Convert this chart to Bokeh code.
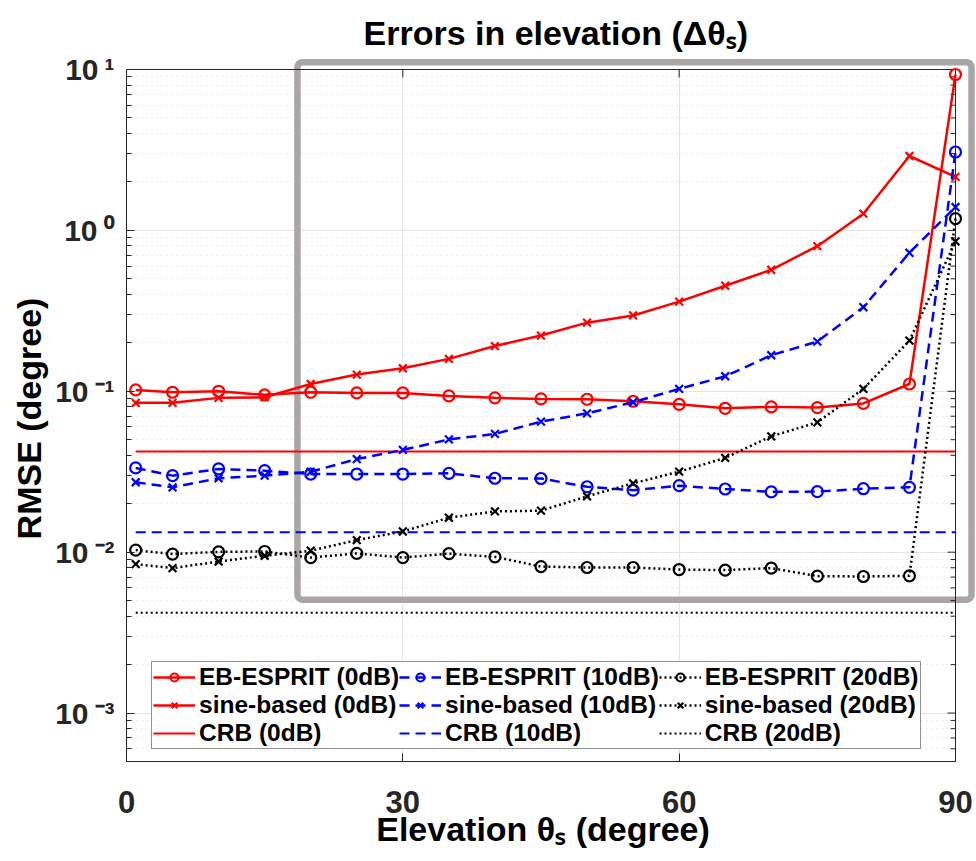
from bokeh.plotting import figure
from bokeh.models import Legend, LegendItem, BoxAnnotation, FixedTicker, Range1d
from bokeh.embed import file_html
from bokeh.resources import INLINE

# ---- data: RMSE of the elevation estimate versus source elevation ----
theta = [1, 5, 10, 15, 20, 25, 30, 35, 40, 45, 50, 55, 60, 65, 70, 75, 80, 85, 90]

eb_0db = [0.102, 0.0986, 0.100, 0.0950, 0.0986, 0.0977, 0.0977, 0.0936, 0.0910, 0.0897,
          0.0892, 0.0867, 0.0830, 0.0784, 0.0800, 0.0792, 0.0841, 0.111, 9.31]
sine_0db = [0.0848, 0.0848, 0.0910, 0.0918, 0.111, 0.127, 0.139, 0.159, 0.191, 0.222,
            0.267, 0.296, 0.361, 0.453, 0.569, 0.798, 1.27, 2.90, 2.15]
crb_0db = [0.0422, 0.0422, 0.0422, 0.0422, 0.0422, 0.0422, 0.0422, 0.0422, 0.0422, 0.0422,
           0.0422, 0.0422, 0.0422, 0.0422, 0.0422, 0.0422, 0.0422, 0.0422, 0.0422]

eb_10db = [0.0334, 0.0299, 0.0329, 0.0321, 0.0306, 0.0306, 0.0306, 0.0309, 0.0288, 0.0287,
           0.0255, 0.0243, 0.0259, 0.0247, 0.0237, 0.0238, 0.0248, 0.0253, 3.07]
sine_10db = [0.0272, 0.0253, 0.0288, 0.0299, 0.0316, 0.0379, 0.0432, 0.0502, 0.0543, 0.0648,
             0.0729, 0.0855, 0.1035, 0.124, 0.1675, 0.2037, 0.333, 0.726, 1.397]
crb_10db = [0.0133, 0.0133, 0.0133, 0.0133, 0.0133, 0.0133, 0.0133, 0.0133, 0.0133, 0.0133,
            0.0133, 0.0133, 0.0133, 0.0133, 0.0133, 0.0133, 0.0133, 0.0133, 0.0133]

eb_20db = [0.0103, 0.00973, 0.01005, 0.0101, 0.00926, 0.00982, 0.00926, 0.00979, 0.00935, 0.00814,
           0.00803, 0.00803, 0.00780, 0.00774, 0.00796, 0.00710, 0.00706, 0.00713, 1.183]
sine_20db = [0.00843, 0.00796, 0.00875, 0.00950, 0.01021, 0.01189, 0.01345, 0.01637, 0.01792, 0.01811,
             0.02223, 0.02679, 0.03164, 0.03853, 0.0525, 0.0641, 0.1035, 0.2065, 0.855]
crb_20db = [0.0042, 0.0042, 0.0042, 0.0042, 0.0042, 0.0042, 0.0042, 0.0042, 0.0042, 0.0042,
            0.0042, 0.0042, 0.0042, 0.0042, 0.0042, 0.0042, 0.0042, 0.0042, 0.0042]

x_ticks = [0, 30, 60, 90]
y_tick_exps = [1, 0, -1, -2, -3]

FONT = "Liberation Sans"
AX = "#262626"
SUP = str.maketrans("-0123456789", "\u207b\u2070\u00b9\u00b2\u00b3\u2074\u2075\u2076\u2077\u2078\u2079")

# axes limits; the drawing area is a little larger than the axes box so the
# highlight frame around the upper-right region can overhang the axes.
X_MIN, X_MAX = 0, 90
Y_MIN, Y_MAX = 5e-4, 10
FRAME_W, FRAME_H = 850, 703
PX_DEG = 829 / (X_MAX - X_MIN)          # pixels per degree inside the axes box
PX_DEC = 160.9                          # pixels per decade
X_END = X_MAX + (FRAME_W - 829) / PX_DEG
Y_TOP = Y_MAX * 10 ** (11 / PX_DEC)

p = figure(width=976, height=861, output_backend="svg", toolbar_location=None,
           y_axis_type="log", x_range=Range1d(X_MIN, X_END), y_range=Range1d(Y_MIN, Y_TOP),
           min_border_left=126, min_border_right=0, min_border_top=58, min_border_bottom=100,
           background_fill_color="white", border_fill_color="white",
           title="Errors in elevation (\u0394\u03b8\u209b)")
p.outline_line_color = None

p.title.text_font = FONT
p.title.text_font_size = "34px"
p.title.text_font_style = "bold"
p.title.text_color = "black"
p.title.align = "left"
p.title.offset = 237
p.title.standoff = 14

major = [10.0 ** e for e in y_tick_exps]
minor = [m * 10.0 ** e for e in range(-4, 2) for m in range(2, 10) if Y_MIN <= m * 10.0 ** e <= Y_MAX]
yticker = FixedTicker(ticks=major, minor_ticks=minor)
xticker = FixedTicker(ticks=x_ticks, minor_ticks=[])


def style_axis(ax):
    ax.axis_line_color = AX
    ax.axis_line_width = 1
    ax.major_tick_line_color = AX
    ax.minor_tick_line_color = AX
    ax.major_tick_in = 8
    ax.major_tick_out = 0
    ax.minor_tick_in = 5
    ax.minor_tick_out = 0
    ax.major_label_text_font = FONT
    ax.major_label_text_font_style = "bold"
    ax.major_label_text_color = AX
    ax.axis_label_text_font = FONT
    ax.axis_label_text_font_size = "34px"
    ax.axis_label_text_font_style = "bold"
    ax.axis_label_text_color = "black"


# left axis: decade labels written as 10 with a superscript exponent
yaxis = p.yaxis[0]
yaxis.ticker = yticker
yaxis.bounds = (Y_MIN, Y_MAX)
style_axis(yaxis)
yaxis.major_label_text_font_size = "30px"
yaxis.major_label_standoff = 12
yaxis.major_label_overrides = {10.0 ** e: "10\u2009" + str(e).translate(SUP) for e in y_tick_exps}
yaxis.axis_label = "RMSE (degree)\u2002"
yaxis.axis_label_standoff = 4

xaxis = p.xaxis[0]
xaxis.ticker = xticker
xaxis.bounds = (X_MIN, X_MAX)
style_axis(xaxis)
xaxis.major_label_text_font_size = "31px"
xaxis.major_label_standoff = 29
xaxis.axis_label = "Elevation \u03b8\u209b (degree)\u2002"
xaxis.axis_label_standoff = -6

p.xgrid.ticker = xticker
p.ygrid.ticker = yticker
for g in (p.xgrid[0], p.ygrid[0]):
    g.grid_line_color = "#E3E3E3"
    g.grid_line_width = 1
p.ygrid.minor_grid_line_color = "#D8D8D8"
p.ygrid.minor_grid_line_dash = "1 4"
p.ygrid.minor_grid_line_width = 1

# keep the grid inside the axes box
cover = dict(fill_color="white", fill_alpha=1, line_alpha=0, level="underlay")
p.add_layout(BoxAnnotation(left=X_MAX, **cover))
p.add_layout(BoxAnnotation(bottom=Y_MAX, **cover))

# highlight frame around the region of interest
p.add_layout(BoxAnnotation(left=18.56, right=91.74, top=11.1, bottom=5.06e-3,
                           fill_alpha=0, line_color="#AAA6A5", line_alpha=1, line_width=6.5,
                           border_radius=5, level="underlay"))

# top and right sides of the axes box, with inward ticks
p.segment(x0=[X_MIN, X_MAX], y0=[Y_MAX, Y_MIN], x1=[X_MAX, X_MAX], y1=[Y_MAX, Y_MAX],
          line_color=AX, line_width=1)
rt_y = major + minor
rt_len = [8] * len(major) + [5] * len(minor)
p.segment(x0=[X_MAX] * len(rt_y), y0=rt_y,
          x1=[X_MAX - L / PX_DEG for L in rt_len], y1=rt_y, line_color=AX, line_width=1)
p.segment(x0=x_ticks, y0=[Y_MAX] * len(x_ticks), x1=x_ticks,
          y1=[Y_MAX * 10 ** (-8 / PX_DEC)] * len(x_ticks), line_color=AX, line_width=1)

DASH = "10 6"
DOT = "2 3"
LW = 2.5


def series(y, color, dash, marker):
    r_line = p.line(theta, y, line_color=color, line_width=LW, line_dash=dash)
    r_mark = p.scatter(theta, y, marker=marker, size=11, line_color=color,
                       line_width=2.2, fill_color=None)
    return [r_line, r_mark]


r_eb0 = series(eb_0db, "#FF0000", "solid", "circle")
r_s0 = series(sine_0db, "#FF0000", "solid", "x")
r_c0 = [p.line(theta, crb_0db, line_color="#FF0000", line_width=2)]
r_eb10 = series(eb_10db, "#0000FF", DASH, "circle")
r_s10 = series(sine_10db, "#0000FF", DASH, "x")
r_c10 = [p.line(theta, crb_10db, line_color="#0000FF", line_width=2, line_dash=DASH)]
r_eb20 = series(eb_20db, "#000000", DOT, "circle")
r_s20 = series(sine_20db, "#000000", DOT, "x")
r_c20 = [p.line(theta, crb_20db, line_color="#000000", line_width=2, line_dash=DOT)]

items = [
    LegendItem(label="EB-ESPRIT (0dB)", renderers=r_eb0),
    LegendItem(label="EB-ESPRIT (10dB)", renderers=r_eb10),
    LegendItem(label="EB-ESPRIT (20dB)", renderers=r_eb20),
    LegendItem(label="sine-based (0dB)", renderers=r_s0),
    LegendItem(label="sine-based (10dB)", renderers=r_s10),
    LegendItem(label="sine-based (20dB)", renderers=r_s20),
    LegendItem(label="CRB (0dB)", renderers=r_c0),
    LegendItem(label="CRB (10dB)", renderers=r_c10),
    LegendItem(label="CRB (20dB)", renderers=r_c20),
]
legend = Legend(items=items, location=(25, 12), orientation="horizontal", ncols=3,
                label_text_font=FONT, label_text_font_style="bold",
                label_text_font_size="24.5px", label_text_color="black",
                glyph_width=42, label_standoff=4,
                spacing=0, padding=1, margin=0,
                border_line_color=AX, border_line_width=1,
                background_fill_color="white", background_fill_alpha=1)
p.add_layout(legend, "center")

open("out.html", "w").write(file_html(p, INLINE))
